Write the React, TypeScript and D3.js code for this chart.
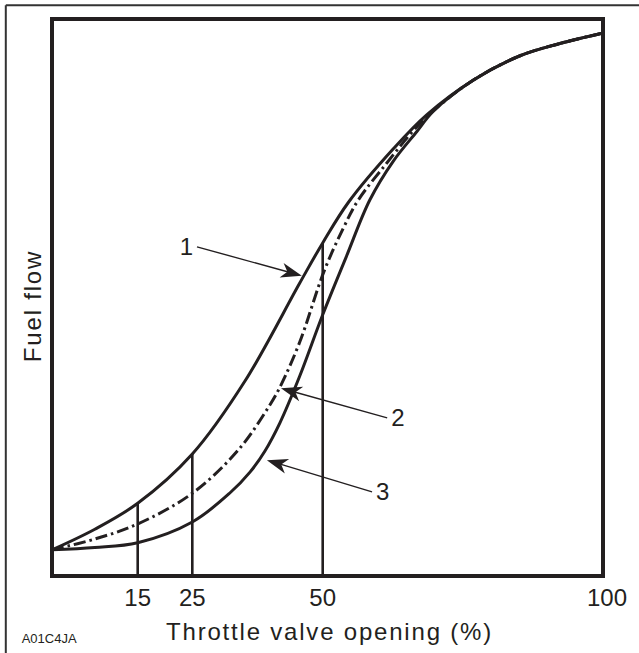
import React from 'react';
import * as d3 from 'd3';

const W = 639;
const H = 653;

// x: throttle valve opening (%), y: fuel flow (relative units 0-100)
const tickValues = [15, 25, 50, 100];
const guideValues = [15, 25, 50];

const curve1: [number, number][] = [
  [0, 4.7], [7.5, 8.4], [15, 13.05], [25, 21.9], [35.1, 35.0], [45.6, 52.6], [50, 59.8],
  [54.6, 67.1], [62.6, 76.7], [68.55, 82.8], [76.9, 89.05], [85.2, 93.4], [92.3, 95.6], [100, 97.5],
];
const curve2: [number, number][] = [
  [0, 4.7], [7.5, 6.64], [15, 9.34], [25, 14.85], [33.8, 22.6], [39.6, 30.3], [41.8, 33.9],
  [45.6, 42.0], [50.2, 54.6], [53.7, 62.5], [56.35, 67.5], [61.4, 74.1], [66.2, 80.0],
  [69.7, 83.5], [76.9, 89.05], [85.2, 93.4], [92.3, 95.6], [100, 97.5],
];
const curve3: [number, number][] = [
  [0, 4.7], [7.5, 5.12], [15, 5.98], [25, 9.7], [32.2, 14.9], [36.1, 18.7], [38.9, 22.4],
  [41.8, 27.5], [45.6, 35.9], [50, 46.9], [54.2, 57.3], [58.4, 67.5], [62.6, 74.5],
  [66.8, 79.8], [69.7, 83.4], [76.9, 89.05], [85.2, 93.4], [92.3, 95.6], [100, 97.5],
];

const calloutLabels = ['1', '2', '3'];
const calloutFrom: [number, number][] = [[25.9, 59.1], [61.5, 28.4], [58.8, 15.1]];
const calloutTo: [number, number][] = [[46.0, 53.9], [42.0, 33.7], [39.3, 20.8]];

const xTitle = 'Throttle valve opening (%)';
const yTitle = 'Fuel flow';
const code = 'A01C4JA';

const INK = '#231f20';
const FONT = '"Liberation Sans", Arial, Helvetica, sans-serif';

export default function App() {
  const left = 52, right = 603, top = 19, bottom = 576;
  const x = d3.scaleLinear().domain([0, 15, 25, 50, 100]).range([left, 137.7, 192.3, 322.7, right]);
  const y = d3.scaleLinear().domain([0, 100]).range([bottom, top]);

  const line = d3.line<[number, number]>()
    .x(d => x(d[0]))
    .y(d => y(d[1]))
    .curve(d3.curveCatmullRom.alpha(0.5));

  const c1At = (v: number) => {
    const p = curve1.find(q => q[0] === v);
    return p ? p[1] : 0;
  };

  const arrows = calloutLabels.map((lab, i) => {
    const x0 = x(calloutFrom[i][0]), y0 = y(calloutFrom[i][1]);
    const x1 = x(calloutTo[i][0]), y1 = y(calloutTo[i][1]);
    const ang = Math.atan2(y1 - y0, x1 - x0);
    const headLen = 20;
    const lx = x1 - Math.cos(ang) * headLen * 0.7;
    const ly = y1 - Math.sin(ang) * headLen * 0.7;
    const leftSide = x0 < x1;
    return { lab, x0, y0, x1, y1, ang, lx, ly, leftSide };
  });

  return (
    <svg width={W} height={H} style={{ position: 'absolute', left: 0, top: 0, background: '#fff' }}>
      <rect x={0} y={0} width={W} height={H} fill="#fff" />
      {/* outer frame (top and left) */}
      <line x1={5.8} y1={5.3} x2={W} y2={5.3} stroke="#333" strokeWidth={2} />
      <line x1={5.8} y1={5.3} x2={5.8} y2={H} stroke="#333" strokeWidth={2} />

      {/* guide lines */}
      {guideValues.map(v => (
        <line key={v} x1={x(v)} x2={x(v)} y1={y(0)} y2={y(c1At(v))} stroke={INK} strokeWidth={2.6} />
      ))}

      {/* curves */}
      <path d={line(curve3) || ''} fill="none" stroke={INK} strokeWidth={3} />
      <path d={line(curve2) || ''} fill="none" stroke={INK} strokeWidth={3} strokeDasharray="12,4,2.5,4" />
      <path d={line(curve1) || ''} fill="none" stroke={INK} strokeWidth={3} />

      {/* plot box */}
      <rect x={left} y={top} width={right - left} height={bottom - top} fill="none" stroke={INK} strokeWidth={4} />

      {/* callouts */}
      {arrows.map(a => (
        <g key={a.lab}>
          <line x1={a.x0} y1={a.y0} x2={a.lx} y2={a.ly} stroke={INK} strokeWidth={1.4} />
          <path
            d="M0,0 L-21,-7.5 L-15,0 L-21,7.5 Z"
            fill={INK}
            transform={`translate(${a.x1},${a.y1}) rotate(${(a.ang * 180) / Math.PI})`}
          />
          <text
            x={a.leftSide ? a.x0 - 4 : a.x0 + 4}
            y={a.y0 + 8.5}
            textAnchor={a.leftSide ? 'end' : 'start'}
            fontFamily={FONT}
            fontSize={24}
            fill={INK}
          >
            {a.lab}
          </text>
        </g>
      ))}

      {/* tick labels */}
      {tickValues.map(v => (
        <text key={v} x={x(v) + (v === 100 ? 4 : 0)} y={606} textAnchor="middle" fontFamily={FONT} fontSize={24} fill={INK}>
          {v}
        </text>
      ))}

      {/* axis titles */}
      <text x={(left + right) / 2 + 2} y={640} textAnchor="middle" fontFamily={FONT} fontSize={24} letterSpacing={1.8} fill={INK}>
        {xTitle}
      </text>
      <text
        transform={`translate(41,306) rotate(-90)`}
        textAnchor="middle"
        fontFamily={FONT}
        fontSize={24}
        letterSpacing={1.8}
        fill={INK}
      >
        {yTitle}
      </text>
      <text x={21.7} y={642.7} fontFamily={FONT} fontSize={13} fill={INK}>
        {code}
      </text>
    </svg>
  );
}
